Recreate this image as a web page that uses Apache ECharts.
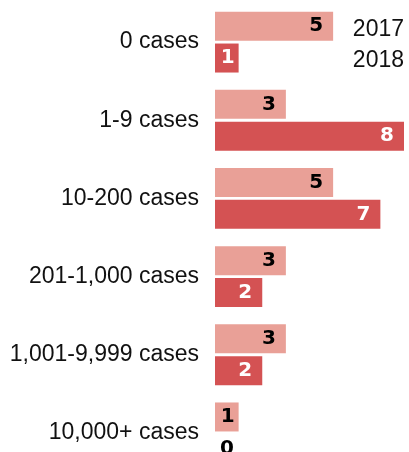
<!DOCTYPE html>
<html>
<head>
<meta charset="utf-8">
<script src="https://cdn.jsdelivr.net/npm/echarts@6/dist/echarts.min.js"></script>
<style>
  html, body { margin: 0; padding: 0; background: #fff; }
  #mycontainer { width: 409px; height: 452px; }
</style>
</head>
<body>
<div id="mycontainer"></div>
<script>
var categories = ['0 cases', '1-9 cases', '10-200 cases', '201-1,000 cases', '1,001-9,999 cases', '10,000+ cases'];
var values2017 = [5, 3, 5, 3, 3, 1];
var values2018 = [1, 8, 7, 2, 2, 0];
var seriesNames = ['2017', '2018'];

var dom = document.getElementById('mycontainer');
var chart = echarts.init(dom, null, { renderer: 'canvas' });

// zero values get their label outside the (empty) bar,
// very short bars get the label a little closer to the end
function toData(values, textColor) {
    return values.map(function (v) {
        if (v === 0) {
            return { value: v, label: { position: 'right', distance: 5, color: '#000' } };
        }
        if (v === 1) {
            return { value: v, label: { color: textColor, distance: 4 } };
        }
        return { value: v, label: { color: textColor } };
    });
}

var labelFont = {
    show: true,
    position: 'insideRight',
    distance: 10,
    fontFamily: 'DejaVu Sans',
    fontWeight: 'bold',
    fontSize: 20
};

var option = {
    animation: false,
    legend: {
        data: seriesNames,
        orient: 'vertical',
        right: 0,
        top: 13,
        icon: 'none',
        itemWidth: 0,
        itemGap: 8,
        selectedMode: false,
        textStyle: {
            fontFamily: 'Liberation Sans',
            fontSize: 23,
            color: '#111'
        }
    },
    grid: {
        left: 215,
        right: 5,
        top: 3,
        bottom: -20,
        outerBoundsMode: 'none'
    },
    xAxis: {
        type: 'value',
        min: 0,
        max: 8,
        show: false
    },
    yAxis: {
        type: 'category',
        data: categories,
        inverse: true,
        axisLine: { show: false },
        axisTick: { show: false },
        axisLabel: {
            margin: 16,
            fontFamily: 'Liberation Sans',
            fontSize: 23,
            color: '#111'
        }
    },
    series: [
        {
            name: seriesNames[0],
            type: 'bar',
            barWidth: 29,
            barGap: '10%',
            itemStyle: { color: '#e9a097' },
            label: labelFont,
            data: toData(values2017, '#000')
        },
        {
            name: seriesNames[1],
            type: 'bar',
            barWidth: 29,
            barGap: '10%',
            itemStyle: { color: '#d45253' },
            label: labelFont,
            data: toData(values2018, '#fff')
        }
    ]
};

chart.setOption(option);
</script>
</body>
</html>
